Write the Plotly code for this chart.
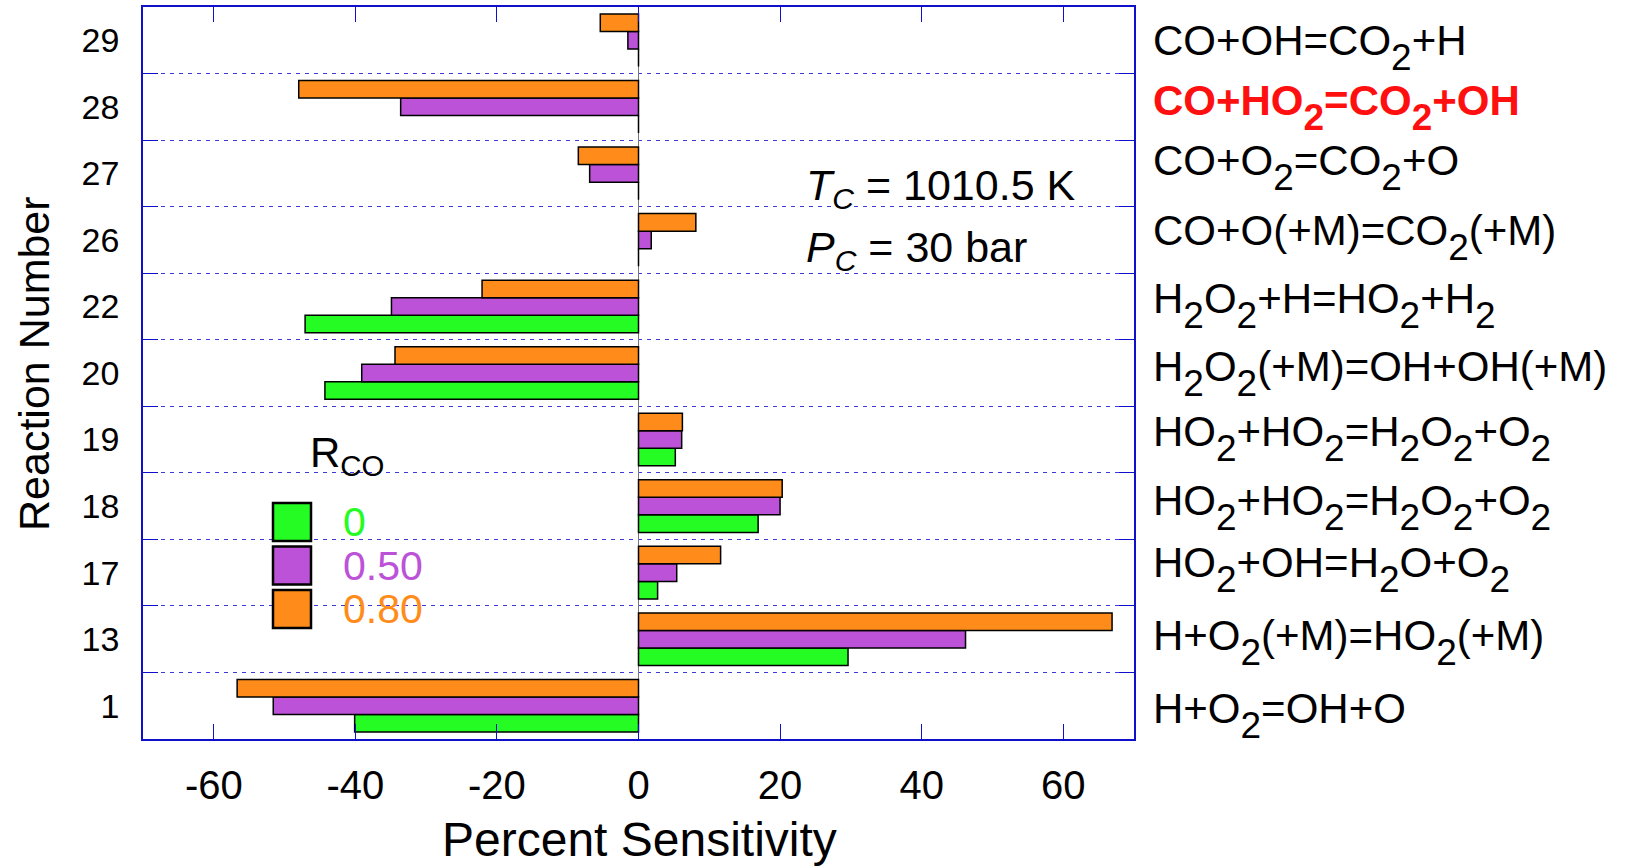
import plotly.graph_objects as go

# ---------------- data ----------------
reactions = ["1", "13", "17", "18", "19", "20", "22", "26", "27", "28", "29"]
reaction_labels = [
    "H+O<sub>2</sub>=OH+O",
    "H+O<sub>2</sub>(+M)=HO<sub>2</sub>(+M)",
    "HO<sub>2</sub>+OH=H<sub>2</sub>O+O<sub>2</sub>",
    "HO<sub>2</sub>+HO<sub>2</sub>=H<sub>2</sub>O<sub>2</sub>+O<sub>2</sub>",
    "HO<sub>2</sub>+HO<sub>2</sub>=H<sub>2</sub>O<sub>2</sub>+O<sub>2</sub>",
    "H<sub>2</sub>O<sub>2</sub>(+M)=OH+OH(+M)",
    "H<sub>2</sub>O<sub>2</sub>+H=HO<sub>2</sub>+H<sub>2</sub>",
    "CO+O(+M)=CO<sub>2</sub>(+M)",
    "CO+O<sub>2</sub>=CO<sub>2</sub>+O",
    "CO+HO<sub>2</sub>=CO<sub>2</sub>+OH",
    "CO+OH=CO<sub>2</sub>+H",
]
highlight_reaction = "28"

sens_r0 = [-40.1, 29.6, 2.7, 16.9, 5.2, -44.3, -47.1, 0.0, 0.0, 0.0, 0.0]
sens_r050 = [-51.6, 46.2, 5.4, 20.0, 6.1, -39.1, -34.9, 1.8, -6.9, -33.6, -1.5]
sens_r080 = [-56.7, 66.9, 11.6, 20.3, 6.2, -34.4, -22.1, 8.1, -8.5, -48.0, -5.4]

series_names = ["0", "0.50", "0.80"]
series_values = [sens_r0, sens_r050, sens_r080]
series_colors = ["#24FC24", "#BC52D8", "#FF8C1A"]

x_ticks = [-60, -40, -20, 0, 20, 40, 60]

# ---------------- layout geometry (pixels of the 1628x867 page) ----------------
W, H = 1628, 867
L, R, T, B = 143, 1134, 7, 739
FONT = "Arial, Liberation Sans, sans-serif"
AXIS_BLUE = "#1010CC"
# small per-label vertical nudges (pixels, bottom to top)
label_nudge = [-10, -3, 3, -1, 1, 0, 1, 2, 6, -1, -7]


def px_x(p):
    return (p - L) / (R - L)


def px_y(p):
    return (B - p) / (B - T)


def big_sub(s):
    # larger, lower subscripts as in the original figure
    return (s.replace("<sub>", '<sub><sub><span style="font-size:37px">')
             .replace("</sub>", "</span></sub></sub>"))


fig = go.Figure()
for name, vals, col in zip(series_names, series_values, series_colors):
    fig.add_trace(go.Bar(
        y=reactions, x=vals, orientation="h", name=name,
        marker=dict(color=col, line=dict(color="black", width=1.5)),
        showlegend=False,
    ))

annotations = []
for idx, (rxn, lab) in enumerate(zip(reactions, reaction_labels)):
    hl = rxn == highlight_reaction
    txt = big_sub(lab)
    annotations.append(dict(
        x=px_x(1151), xref="paper", xanchor="left",
        y=idx, yref="y", yanchor="middle", yshift=label_nudge[idx],
        text=f"<b>{txt}</b>" if hl else txt, showarrow=False,
        font=dict(family=FONT, size=42, color="#FF1010" if hl else "black"),
    ))

# condition text
annotations.append(dict(
    x=px_x(804), xref="paper", xanchor="left", y=px_y(188), yref="paper", yanchor="middle",
    text="<i>T</i><sub><i>C</i></sub> = 1010.5 K", showarrow=False,
    font=dict(family=FONT, size=43, color="black")))
annotations.append(dict(
    x=px_x(804), xref="paper", xanchor="left", y=px_y(250), yref="paper", yanchor="middle",
    text="<i>P</i><sub><i>C</i></sub> = 30 bar", showarrow=False,
    font=dict(family=FONT, size=43, color="black")))

# axis titles
annotations.append(dict(
    x=px_x(639), xref="paper", xanchor="center", y=px_y(839), yref="paper", yanchor="middle",
    text="Percent Sensitivity", showarrow=False,
    font=dict(family=FONT, size=48, color="black")))
annotations.append(dict(
    x=px_x(34), xref="paper", xanchor="center", y=px_y(364), yref="paper", yanchor="middle",
    text="Reaction Number", textangle=-90, showarrow=False,
    font=dict(family=FONT, size=43, color="black")))

# custom legend
annotations.append(dict(
    x=px_x(308), xref="paper", xanchor="left", y=px_y(455), yref="paper", yanchor="middle",
    text="R<sub>CO</sub>", showarrow=False,
    font=dict(family=FONT, size=42, color="black")))

shapes = [dict(type="rect", xref="paper", yref="paper", layer="between",
               x0=px_x(230), x1=px_x(443), y0=px_y(650), y1=px_y(482),
               fillcolor="white", line=dict(width=0))]
box_tops = [503, 546.5, 590]
text_centers = [522, 566, 609]
for i, (name, col) in enumerate(zip(series_names, series_colors)):
    shapes.append(dict(type="rect", xref="paper", yref="paper", layer="above",
                       x0=px_x(273), x1=px_x(311), y0=px_y(box_tops[i] + 38), y1=px_y(box_tops[i]),
                       fillcolor=col, line=dict(color="black", width=2.5)))
    annotations.append(dict(
        x=px_x(341), xref="paper", xanchor="left", y=px_y(text_centers[i]), yref="paper",
        yanchor="middle", text=name, showarrow=False,
        font=dict(family=FONT, size=41, color=col)))

fig.update_layout(
    width=W, height=H,
    margin=dict(l=L, r=W - R, t=T, b=H - B, autoexpand=False),
    paper_bgcolor="white", plot_bgcolor="white",
    barmode="group", bargap=0.21, bargroupgap=0,
    font=dict(family=FONT, color="black"),
    annotations=annotations, shapes=shapes,
    xaxis=dict(
        range=[-70, 70], tickmode="array", tickvals=x_ticks,
        ticktext=[str(v) for v in x_ticks],
        ticks="inside", ticklen=15, tickwidth=1.2, tickcolor=AXIS_BLUE,
        showline=True, linecolor=AXIS_BLUE, linewidth=1.5, mirror="ticks",
        showgrid=False, zeroline=True, zerolinecolor="#777777", zerolinewidth=1.2,
        tickfont=dict(family=FONT, size=40, color="black"),
        ticklabelstandoff=10,
        automargin=False,
    ),
    yaxis=dict(
        type="category", categoryorder="array", categoryarray=reactions,
        range=[-0.5, len(reactions) - 0.5], autorange=False,
        tickson="boundaries",
        ticks="inside", ticklen=15, tickwidth=1.2, tickcolor=AXIS_BLUE,
        showline=True, linecolor=AXIS_BLUE, linewidth=1.5, mirror="ticks",
        showgrid=True, gridcolor="#3A3AE0", gridwidth=1, griddash="4px,5px",
        tickfont=dict(family=FONT, size=34, color="black"),
        ticklabelstandoff=15,
        automargin=False,
    ),
)

fig.write_html("out.html")
